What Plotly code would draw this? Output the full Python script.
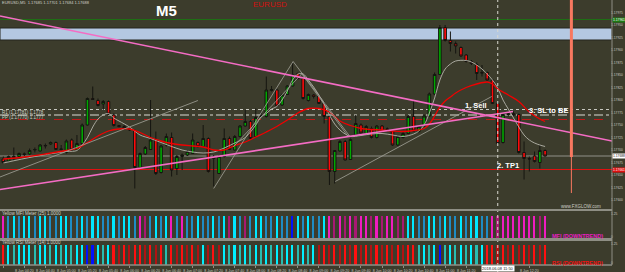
import plotly.graph_objects as go

# ---------------- data ----------------
candle_idx = list(range(104))
open_ = [1.17682,1.17678,1.17685,1.17687,1.17691,1.17692,1.17700,1.17698,1.17708,1.17712,
         1.17715,1.17701,1.17695,1.17720,1.17700,1.17713,1.17750,1.17803,1.17799,1.17792,
         1.17797,1.17770,1.17749,1.17747,1.17743,1.17739,1.17665,1.17692,1.17701,1.17720,
         1.17655,1.17710,1.17725,1.17663,1.17687,1.17690,1.17693,1.17715,1.17707,1.17723,
         1.17686,1.17653,1.17687,1.17723,1.17700,1.17727,1.17748,1.17757,1.17727,1.17767,
         1.17767,1.17819,1.17820,1.17790,1.17811,1.17828,1.17853,1.17843,1.17799,1.17810,
         1.17808,1.17793,1.17767,1.17657,1.17698,1.17717,1.17681,1.17730,1.17750,1.17733,
         1.17743,1.17725,1.17748,1.17741,1.17738,1.17710,1.17725,1.17733,1.17767,1.17737,
         1.17748,1.17768,1.17812,1.17851,1.17945,1.17919,1.17913,1.17905,1.17890,1.17877,
         1.17871,1.17855,1.17855,1.17840,1.17793,1.17715,1.17771,1.17773,1.17771,1.17695,
         1.17683,1.17688,1.17675,1.17699]
high = [1.17687,1.17689,1.17705,1.17695,1.17695,1.17703,1.17705,1.17712,1.17713,1.17717,
        1.17717,1.17710,1.17721,1.17723,1.17730,1.17753,1.17805,1.17827,1.17803,1.17800,
        1.17799,1.17773,1.17750,1.17750,1.17747,1.17741,1.17695,1.17708,1.17800,1.17737,
        1.17710,1.17733,1.17735,1.17690,1.17693,1.17700,1.17733,1.17717,1.17750,1.17725,
        1.17690,1.17690,1.17743,1.17727,1.17730,1.17750,1.17780,1.17760,1.17783,1.17777,
        1.17847,1.17828,1.17823,1.17813,1.17830,1.17875,1.17855,1.17845,1.17813,1.17812,
        1.17810,1.17797,1.17770,1.17700,1.17720,1.17720,1.17723,1.17770,1.17753,1.17750,
        1.17747,1.17750,1.17750,1.17745,1.17740,1.17730,1.17737,1.17770,1.17800,1.17750,
        1.17771,1.17815,1.17855,1.17950,1.17950,1.17937,1.17917,1.17907,1.17892,1.17880,
        1.17875,1.17870,1.17857,1.17841,1.17795,1.17773,1.17775,1.17777,1.17773,1.17717,
        1.17687,1.17697,1.17710,1.17701]
low = [1.17672,1.17676,1.17680,1.17685,1.17688,1.17690,1.17695,1.17697,1.17703,1.17710,
       1.17700,1.17699,1.17693,1.17699,1.17699,1.17712,1.17749,1.17800,1.17787,1.17780,
       1.17770,1.17747,1.17745,1.17740,1.17738,1.17623,1.17663,1.17690,1.17700,1.17650,
       1.17653,1.17707,1.17647,1.17650,1.17660,1.17688,1.17692,1.17705,1.17705,1.17655,
       1.17627,1.17652,1.17685,1.17700,1.17699,1.17725,1.17747,1.17721,1.17725,1.17765,
       1.17765,1.17817,1.17787,1.17788,1.17810,1.17827,1.17841,1.17801,1.17797,1.17803,
       1.17792,1.17753,1.17630,1.17633,1.17697,1.17679,1.17680,1.17728,1.17733,1.17732,
       1.17723,1.17723,1.17735,1.17737,1.17708,1.17708,1.17723,1.17732,1.17737,1.17735,
       1.17747,1.17767,1.17810,1.17850,1.17917,1.17897,1.17893,1.17886,1.17875,1.17870,
       1.17840,1.17847,1.17839,1.17792,1.17712,1.17713,1.17767,1.17768,1.17693,1.17641,
       1.17657,1.17675,1.17663,1.17687]
close = [1.17675,1.17687,1.17687,1.17693,1.17692,1.17699,1.17701,1.17710,1.17709,1.17715,
         1.17701,1.17702,1.17718,1.17700,1.17713,1.17750,1.17803,1.17801,1.17789,1.17797,
         1.17772,1.17749,1.17747,1.17743,1.17740,1.17665,1.17693,1.17705,1.17720,1.17653,
         1.17708,1.17727,1.17660,1.17687,1.17690,1.17697,1.17720,1.17707,1.17723,1.17657,
         1.17683,1.17687,1.17723,1.17701,1.17727,1.17748,1.17757,1.17723,1.17765,1.17768,
         1.17820,1.17821,1.17788,1.17810,1.17828,1.17850,1.17843,1.17803,1.17811,1.17807,
         1.17793,1.17767,1.17657,1.17699,1.17717,1.17680,1.17721,1.17753,1.17734,1.17747,
         1.17725,1.17748,1.17737,1.17742,1.17710,1.17727,1.17733,1.17767,1.17738,1.17747,
         1.17768,1.17812,1.17851,1.17945,1.17919,1.17913,1.17908,1.17888,1.17877,1.17873,
         1.17853,1.17854,1.17840,1.17793,1.17713,1.17771,1.17772,1.17770,1.17695,1.17683,
         1.17682,1.17677,1.17699,1.17688]

red_ma_idx = [0,4,8,12,14,16,18,20,22,24,26,28,30,32,34,36,38,40,42,44,46,48,50,52,54,56,58,60,
              62,64,66,68,70,72,74,76,78,80,81,82,83,84,85,86,88,90,92,93,94,96,98,100,102,103]
red_ma = [1.17682,1.17686,1.17692,1.17699,1.17703,1.17715,1.17728,1.17738,1.17742,1.17742,
          1.17735,1.17725,1.17718,1.17713,1.17710,1.17708,1.17706,1.17700,1.17700,1.17709,
          1.17716,1.17726,1.17736,1.17747,1.17760,1.17774,1.17783,1.17783,1.17776,1.17758,
          1.17749,1.17743,1.17741,1.17740,1.17738,1.17737,1.17739,1.17743,1.17752,1.17768,
          1.17786,1.17798,1.17806,1.17814,1.17825,1.17832,1.17836,1.17832,1.17822,1.17810,
          1.17797,1.17776,1.17762,1.17757]
gray_ma_idx = [0,6,12,14,15,16,17,18,19,20,21,22,24,26,28,30,32,34,36,38,40,42,44,46,48,49,50,
               51,52,53,54,55,56,57,58,59,60,61,62,63,64,65,66,68,70,72,74,76,78,79,80,81,82,83,
               84,85,86,88,89,90,91,92,93,94,95,96,97,98,99,100,101,102,103]
gray_ma = [1.17674,1.17687,1.17697,1.17699,1.17710,1.17725,1.17746,1.17762,1.17770,1.17773,
           1.17764,1.17758,1.17746,1.17730,1.17723,1.17715,1.17707,1.17700,1.17696,1.17694,
           1.17696,1.17704,1.17714,1.17725,1.17750,1.17766,1.17773,1.17782,1.17787,1.17800,
           1.17818,1.17840,1.17852,1.17852,1.17840,1.17826,1.17810,1.17792,1.17770,1.17752,
           1.17740,1.17732,1.17727,1.17729,1.17732,1.17733,1.17730,1.17727,1.17732,1.17738,
           1.17750,1.17774,1.17804,1.17840,1.17862,1.17872,1.17878,1.17879,1.17876,1.17870,
           1.17862,1.17852,1.17840,1.17824,1.17800,1.17782,1.17764,1.17746,1.17730,1.17720,
           1.17714,1.17710,1.17707]

# trend lines (x in bar index, y in price)
pink_lines = [([-0.63, 115.72], [1.17968, 1.17718]),
              ([-0.63, 96.9], [1.17621, 1.17777])]
gray_lines = [([-0.63, 37.0], [1.17646, 1.17799]),
              ([40.0, 55.1], [1.17623, 1.17877]),
              ([43.7, 56.8], [1.17706, 1.17853]),
              ([55.1, 65.9], [1.17877, 1.17727]),
              ([56.7, 65.5], [1.17853, 1.17728]),
              ([63.1, 92.85], [1.17637, 1.17807])]

# horizontal levels
level_green = 1.17961
zone_low, zone_high = 1.17920, 1.17944
level_dotted = 1.17781
level_dashdot = 1.17770
level_red_dash = 1.17761
level_bid = 1.17688
level_red = 1.17661
sell_bar = 94
future_bar = 108
future_top, future_mid, future_bottom = 1.18000, 1.17686, 1.17614

# indicator meters (one colour code per bar, 10 bars per chunk)
mfi_codes = "".join(["mbcbccbccb", "bccbbcbccb", "bcbccbmMbc", "bcmbmbbcbb", "cbcMcbMbcc",
                     "bbcbbBcbcb", "bcmMmMmMmm", "MmMmmMMccb", "bccbcbbcbc", "cbbmMmmmmm", "mmMm"])
rsi_codes = "".join(["rctccctcct", "ctctccBBct", "crRrRrrRrR", "rtrRrRrRcR", "rRctctctct",
                     "ctctcctctc", "RrRrRrRrRr", "RrRrRrRrrt", "ctcBtctctc", "tcrrRrRrRr", "RrRr"])
mfi_palette = {'c': '#00e8ff', 'b': '#1e8cc4', 'B': '#0010ff', 'm': '#f01cc0', 'M': '#a81872'}
rsi_palette = {'c': '#00f0ff', 't': '#28bcb0', 'B': '#0010ff', 'r': '#ff1010', 'R': '#b01212'}

# time axis labels (the two labels under the cursor-time box are hidden by it)
time_tick_idx = [0, 4, 8, 12, 16, 20, 24, 28, 32, 36, 40, 44, 48, 52, 56, 60, 64, 68, 72, 76,
                 80, 84, 88, 100]
time_tick_text = ["8 Jun 04:00", "8 Jun 04:20", "8 Jun 04:40", "8 Jun 05:00", "8 Jun 05:20",
                  "8 Jun 05:40", "8 Jun 06:00", "8 Jun 06:20", "8 Jun 06:40", "8 Jun 07:00",
                  "8 Jun 07:20", "8 Jun 07:40", "8 Jun 08:00", "8 Jun 08:20", "8 Jun 08:40",
                  "8 Jun 09:00", "8 Jun 09:20", "8 Jun 09:40", "8 Jun 10:00", "8 Jun 10:20",
                  "8 Jun 10:40", "8 Jun 11:00", "8 Jun 11:20", "8 Jun 12:20"]
cursor_time = "2018.06.08 11:50"

# ---------------- figure ----------------
BG = '#3c3c2c'
SEP = '#8e8e84'
W, H = 625, 272
fig = go.Figure()

fig.add_trace(go.Candlestick(
    x=candle_idx, open=open_, high=high, low=low, close=close,
    increasing=dict(fillcolor='#00a800', line=dict(color='#151510', width=1)),
    decreasing=dict(fillcolor='#ff0a0a', line=dict(color='#151510', width=1)),
    whiskerwidth=0, xaxis='x', yaxis='y', hoverinfo='skip'))

fig.add_trace(go.Scatter(x=gray_ma_idx, y=gray_ma, mode='lines', line=dict(color='#b4b4aa', width=0.9, shape='spline'),
                         xaxis='x', yaxis='y', hoverinfo='skip'))
fig.add_trace(go.Scatter(x=red_ma_idx, y=red_ma, mode='lines', line=dict(color='#f00000', width=1.3, shape='spline'),
                         xaxis='x', yaxis='y', hoverinfo='skip'))
for gx, gy in gray_lines:
    fig.add_trace(go.Scatter(x=gx, y=gy, mode='lines', line=dict(color='#a4a49a', width=0.8),
                             xaxis='x', yaxis='y', hoverinfo='skip'))
for px_, py_ in pink_lines:
    fig.add_trace(go.Scatter(x=px_, y=py_, mode='lines', line=dict(color='#f46cc4', width=1.6),
                             xaxis='x', yaxis='y', hoverinfo='skip'))

fig.add_trace(go.Bar(x=candle_idx, y=[1] * len(candle_idx), width=0.3,
                     marker=dict(color=[mfi_palette[c] for c in mfi_codes], line=dict(width=0)),
                     xaxis='x', yaxis='y2', hoverinfo='skip'))
fig.add_trace(go.Bar(x=candle_idx, y=[1] * len(candle_idx), width=0.3,
                     marker=dict(color=[rsi_palette[c] for c in rsi_codes], line=dict(width=0)),
                     xaxis='x', yaxis='y3', hoverinfo='skip'))

def py(p):
    return (H - p) / H

shapes = [
    dict(type='rect', xref='paper', yref='y', x0=0, x1=1, y0=zone_low, y1=zone_high,
         fillcolor='#b4c8e2', line=dict(color='#24241c', width=1), layer='below'),
    dict(type='line', xref='paper', yref='y', x0=0, x1=1, y0=level_green, y1=level_green,
         line=dict(color='#1e6e14', width=1), layer='below'),
    dict(type='line', xref='paper', yref='y', x0=0, x1=1, y0=level_dotted, y1=level_dotted,
         line=dict(color='#c8c8c0', width=1, dash='dot'), layer='below'),
    dict(type='line', xref='paper', yref='y', x0=0, x1=1, y0=level_dashdot, y1=level_dashdot,
         line=dict(color='#dcdcd4', width=1, dash='dashdot'), layer='below'),
    dict(type='line', xref='paper', yref='y', x0=0, x1=1, y0=level_red_dash, y1=level_red_dash,
         line=dict(color='#c01818', width=1, dash='dash'), layer='below'),
    dict(type='line', xref='paper', yref='y', x0=0, x1=1, y0=level_bid, y1=level_bid,
         line=dict(color='#909088', width=1), layer='below'),
    dict(type='line', xref='paper', yref='y', x0=0, x1=1, y0=level_red, y1=level_red,
         line=dict(color='#e01010', width=1), layer='below'),
    dict(type='line', xref='x', yref='paper', x0=sell_bar, x1=sell_bar, y0=0, y1=1,
         line=dict(color='#d8d8d0', width=1, dash='dot')),
    dict(type='line', xref='x', yref='y', x0=future_bar, x1=future_bar, y0=future_mid, y1=future_top,
         line=dict(color='#f87860', width=3)),
    dict(type='line', xref='x', yref='y', x0=future_bar, x1=future_bar, y0=future_bottom, y1=future_mid,
         line=dict(color='#f87860', width=1)),
    # panel separators
    dict(type='line', xref='paper', yref='paper', x0=0, x1=1, y0=py(210), y1=py(210),
         line=dict(color=SEP, width=2)),
    dict(type='line', xref='paper', yref='paper', x0=0, x1=1, y0=py(239.5), y1=py(239.5),
         line=dict(color=SEP, width=3)),
    dict(type='line', xref='paper', yref='paper', x0=0, x1=1, y0=py(265), y1=py(265),
         line=dict(color=SEP, width=1.5)),
    dict(type='line', xref='paper', yref='paper', x0=1, x1=1, y0=py(265), y1=1,
         line=dict(color=SEP, width=1)),
]

small = dict(family='Liberation Sans', size=4.5, color='#d0d0c8')

def note(text, x, y, xref='paper', yref='paper', xanchor='center', font=small, **kw):
    return dict(text=text, x=x, y=y, xref=xref, yref=yref, xanchor=xanchor, yanchor='middle',
                showarrow=False, font=font, **kw)

white_bold = dict(family='Liberation Sans', size=7.5, color='#ffffff')
box_font = lambda c: dict(family='Liberation Sans', size=3.3, color=c)
ann = [
    note('<b>M5</b>', 167 / 612, py(10.5), font=dict(family='Liberation Sans', size=15, color='#ffffff')),
    note('EURUSD', 270 / 612, py(4.5), font=dict(family='Liberation Sans', size=8, color='#d01010')),
    note('EURUSD,M5  1.17685 1.17701 1.17684 1.17688', 0, py(3), xanchor='left',
         font=dict(family='Liberation Sans', size=4, color='#d0d0c8')),
    note('<b>1. Sell</b>', 89.9, 1.17789, xref='x', yref='y', font=white_bold),
    note('<b>3. SL to BE</b>', 103.7, 1.17779, xref='x', yref='y', font=white_bold),
    note('<b>2. TP1</b>', 95.9, 1.17670, xref='x', yref='y', font=white_bold),
    note('www.FXGLOW.com', 603 / 612, py(206), xanchor='right'),
    note('<b>MFI (DOWNTREND)</b>', 550 / 612, py(236), xanchor='left',
         font=dict(family='Liberation Sans', size=5.5, color='#e81cc0')),
    note('<b>RSI (DOWNTREND)</b>', 550 / 612, py(262.5), xanchor='left',
         font=dict(family='Liberation Sans', size=5.5, color='#f01010')),
    note('Yellow MFI Meter (25) 1.0000', 0, py(213), xanchor='left'),
    note('Yellow RSI Meter (14) 1.0000', 0, py(242.5), xanchor='left'),
    note('R1 (1.17781) 1.1778', 0, 1.17776, yref='y', xanchor='left'),
    note('PP (1.17770) 1.1777', 0, 1.17765, yref='y', xanchor='left'),
    note('1.17961', 1.0005, level_green, yref='y', xanchor='left', bgcolor='#1e7a14', borderpad=0,
         font=box_font('#ffffff')),
    note('1.17688', 1.0005, level_bid, yref='y', xanchor='left', bgcolor='#ffffff', borderpad=0,
         font=box_font('#202020')),
    note('1.17661', 1.0005, level_red, yref='y', xanchor='left', bgcolor='#e01010', borderpad=0,
         font=box_font('#ffffff')),
    note(cursor_time, sell_bar, py(268.3), xref='x', bgcolor='#ffffff', borderpad=0,
         font=dict(family='Liberation Sans', size=4, color='#202020')),
]

tickfont = dict(family='Liberation Sans', size=3.3, color='#c8c8c0')
fig.update_layout(
    width=W, height=H, margin=dict(l=0, r=13, t=0, b=0),
    paper_bgcolor=BG, plot_bgcolor=BG, showlegend=False, hovermode=False,
    bargap=0, boxgap=0.3,
    shapes=shapes, annotations=ann,
    xaxis=dict(domain=[0, 1], range=[-0.627, 115.72], anchor='y3', rangeslider=dict(visible=False),
               tickvals=time_tick_idx, ticktext=time_tick_text, tickangle=0,
               tickfont=dict(family='Liberation Sans', size=3.6, color='#c8c8c0'),
               ticks='outside', ticklen=1.5, tickcolor=SEP, showgrid=False, zeroline=False,
               showline=False, fixedrange=True, automargin=False),
    yaxis=dict(domain=[py(211), 1], range=[1.17578, 1.18000], side='right', anchor='x',
               dtick=0.00025, tick0=1.176, tickformat='.5f', tickfont=tickfont, automargin=False,
               ticks='', ticklabelstandoff=-2, showgrid=False, zeroline=False, fixedrange=True),
    yaxis2=dict(domain=[py(239.5), py(211)], range=[0, 1.22], side='right', anchor='x', automargin=False,
                tickvals=[0.12, 1.08], ticktext=['0', '1.25'], tickfont=tickfont, ticklabelstandoff=-2,
                ticks='', showgrid=False, zeroline=False, fixedrange=True),
    yaxis3=dict(domain=[py(265), py(240)], range=[0, 1.25], side='right', anchor='x', automargin=False,
                tickvals=[0.12, 1.08], ticktext=['0', '1.25'], tickfont=tickfont, ticklabelstandoff=-2,
                ticks='', showgrid=False, zeroline=False, fixedrange=True),
)

fig.write_html("out.html")
